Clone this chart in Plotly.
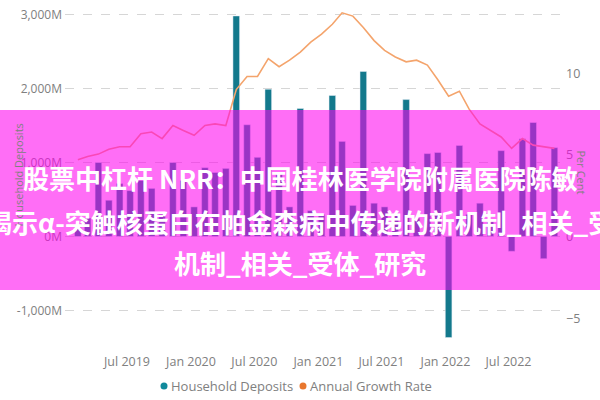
import plotly.graph_objects as go

months = ["2019-02","2019-03","2019-04","2019-05","2019-06","2019-07","2019-08","2019-09","2019-10","2019-11","2019-12",
          "2020-01","2020-02","2020-03","2020-04","2020-05","2020-06","2020-07","2020-08","2020-09","2020-10","2020-11","2020-12",
          "2021-01","2021-02","2021-03","2021-04","2021-05","2021-06","2021-07","2021-08","2021-09","2021-10","2021-11","2021-12",
          "2022-01","2022-02","2022-03","2022-04","2022-05","2022-06","2022-07","2022-08","2022-09","2022-10","2022-11"]
household_deposits_m = [150, 250, 1000, 490, 716, 620, 757, 650, 300, 1000, 757, 400, 930, 865, 920,
                        2980, 1510, 1070, 1990, 850, 400, 1730, 350, 300, 1905, 1285, 420, 2230, 450, 400,
                        300, 1850, 250, 1120, 1135, -1365, 1230, 300, 450, 200, 1160, -200, 1320, 1540, -300, 1200]
annual_growth_rate = [4.7, 4.9, 5.05, 5.35, 5.5, 5.5, 6.3, 6.4, 6.0, 6.8, 6.5, 6.2, 6.8, 6.9, 6.8,
                      9.0, 9.8, 9.8, 10.9, 10.4, 10.8, 11.3, 11.9, 12.4, 13.0, 13.7, 13.5, 12.8, 12.0, 11.4,
                      11.0, 10.7, 10.8, 10.5, 9.6, 8.6, 8.9, 7.8, 6.9, 6.5, 6.1, 5.4, 6.0, 5.6, 5.5, 5.4]
tick_dates = ["2019-07-01", "2020-01-01", "2020-07-01", "2021-01-01", "2021-07-01", "2022-01-01", "2022-07-01"]
tick_labels = ["Jul 2019", "Jan 2020", "Jul 2020", "Jan 2021", "Jul 2021", "Jan 2022", "Jul 2022"]
left_ticks = [-1000, 0, 1000, 2000, 3000]
left_labels = ["-1,000M", "0M", "1,000M", "2,000M", "3,000M"]
right_ticks = [-5, 0, 5, 10]
legend_names = ["Household Deposits", "Annual Growth Rate"]
title_lines = ["股票中杠杆 NRR：中国桂林医学院附属医院陈敏",
               "揭示α-突触核蛋白在帕金森病中传递的新机制_相关_受",
               "机制_相关_受体_研究"]

dates = [m + "-10" for m in months]
TEAL = "#13798C"
ORANGE = "#F4A46C"
GREY = "#666666"
LIGHT = "#808080"
LEGEND_COLORS = ["#118A9C", "#E8772E"]

fig = go.Figure()
fig.add_trace(go.Bar(x=dates, y=household_deposits_m, marker_color=TEAL,
                     width=[19 * 86400000] * len(dates), showlegend=False, yaxis="y"))
fig.add_trace(go.Scatter(x=dates, y=annual_growth_rate, mode="lines",
                         line=dict(color=ORANGE, width=1.6), showlegend=False, yaxis="y2"))

L, R, T, B = 65, 40, 5, 55
pw, ph = 600 - L - R, 400 - T - B

def py(ypix):
    return (400 - B - ypix) / ph

def px(xpix):
    return (xpix - L) / pw

fig.update_layout(
    width=600, height=400, margin=dict(l=L, r=R, t=T, b=B, autoexpand=False),
    paper_bgcolor="white", plot_bgcolor="white",
    font=dict(family="Open Sans, Noto Sans, sans-serif", color=GREY, size=12),
    showlegend=False,
    xaxis=dict(type="date", range=["2019-01-04", "2022-11-26"], tickvals=tick_dates, ticktext=tick_labels,
               showgrid=False, zeroline=False, showline=False, ticks="", ticklabelstandoff=7,
               automargin=False, tickfont=dict(size=12.5, color=LIGHT)),
    yaxis=dict(range=[-1466, 3128], tickvals=left_ticks, ticktext=left_labels,
               showgrid=True, gridcolor="#D6D6D6", griddash="dash", gridwidth=1,
               zeroline=False, showline=False, ticks="", ticklabelstandoff=2, automargin=False,
               tickfont=dict(size=12, color=LIGHT)),
    yaxis2=dict(range=[-6.64, 14.18], tickvals=right_ticks, overlaying="y", side="right",
                showgrid=False, zeroline=False, showline=False, ticks="", ticklabelstandoff=5,
                automargin=False, tickfont=dict(size=12.5, color=LIGHT)),
)

# manual legend
for name, col, xdot in zip(legend_names, LEGEND_COLORS, [164, 303]):
    fig.add_shape(type="circle", xref="paper", yref="paper",
                  x0=px(xdot - 3.5), x1=px(xdot + 3.5), y0=py(389.5), y1=py(382.5),
                  fillcolor=col, line=dict(width=0))
    fig.add_annotation(text=name, xref="paper", yref="paper", x=px(xdot + 5), y=py(386),
                       xanchor="left", yanchor="middle", showarrow=False,
                       font=dict(size=13, color=LIGHT))

# axis titles
fig.add_annotation(text="Household Deposits", xref="paper", yref="paper", x=px(8), y=py(175),
                   textangle=-90, showarrow=False, font=dict(size=11, color=LIGHT))
fig.add_annotation(text="Per Cent", xref="paper", yref="paper", x=px(591), y=py(172),
                   textangle=90, showarrow=False, font=dict(size=11, color=LIGHT))

# pink overlay banner
fig.add_shape(type="rect", xref="paper", yref="paper", x0=px(0), x1=px(600), y0=py(290), y1=py(110),
              fillcolor="rgba(255,0,240,0.57)", line=dict(width=0), layer="above")

for txt, ypix in zip(title_lines, [177, 221, 262]):
    fig.add_annotation(text=txt, xref="paper", yref="paper", x=px(300), y=py(ypix),
                       xanchor="center", yanchor="middle", showarrow=False,
                       font=dict(family="Noto Sans CJK SC", size=26, color="white", weight="bold"))

fig.write_html("out.html", config={"displayModeBar": False, "staticPlot": True},
               post_script="document.body.style.margin='0';document.body.style.padding='0';document.body.style.overflow='hidden';")
